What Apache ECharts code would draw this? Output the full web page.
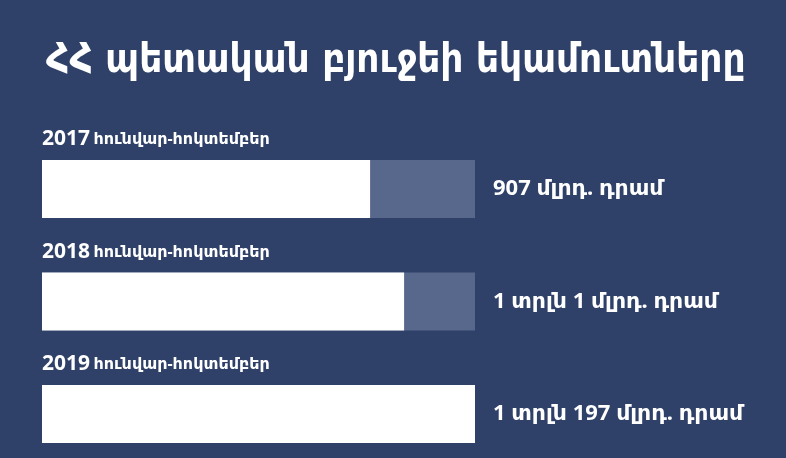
<!DOCTYPE html>
<html><head><meta charset="utf-8">
<script src="https://cdn.jsdelivr.net/npm/echarts@6/dist/echarts.min.js"></script>
<style>html,body{margin:0;padding:0;background:#2f4169;}#c{width:786px;height:458px;}</style>
</head><body><div id="c"></div>
<script>
const titleText = 'ՀՀ պետական բյուջեի եկամուտները';
const years = ['2017', '2018', '2019'];
const periodText = 'հունվար-հոկտեմբեր';
const values = [907, 1001, 1197]; // billion AMD
const valueLabels = ['907 մլրդ. դրամ', '1 տրլն 1 մլրդ. դրամ', '1 տրլն 197 մլրդ. դրամ'];

const font = '"Noto Sans", "DejaVu Sans", sans-serif';
const condFont = '"DejaVu Sans Condensed", "Noto Sans", sans-serif';
const chart = echarts.init(document.getElementById('c'));
chart.setOption({
  backgroundColor: '#2f4169',
  animation: false,
  title: {
    text: titleText, left: 41, top: 37,
    textStyle: {color: '#ffffff', fontFamily: condFont, fontWeight: 'bold', fontSize: 40}
  },
  grid: {left: 42, right: 311, top: 189, bottom: 44},
  xAxis: {type: 'value', min: 0, max: 1197, show: false},
  yAxis: [
    {type: 'category', data: years, inverse: true, show: false, boundaryGap: false},
    {type: 'category', data: valueLabels, inverse: true, position: 'right', boundaryGap: false,
     axisLine: {show: false}, axisTick: {show: false}, splitLine: {show: false},
     axisLabel: {color: '#ffffff', fontFamily: font, fontWeight: 'bold', fontSize: 22, margin: 18, align: 'left'}}
  ],
  series: [{
    type: 'bar', data: values, yAxisIndex: 0, barWidth: 58,
    itemStyle: {color: '#ffffff'},
    showBackground: true,
    backgroundStyle: {color: '#58688c'},
    label: {
      show: true, position: [0, -31],
      formatter: p => '{y|' + years[p.dataIndex] + '} {m|' + periodText + '}',
      rich: {
        y: {color: '#ffffff', fontFamily: font, fontWeight: 'bold', fontSize: 21},
        m: {color: '#ffffff', fontFamily: font, fontWeight: 'bold', fontSize: 16}
      }
    }
  }]
});
</script></body></html>
